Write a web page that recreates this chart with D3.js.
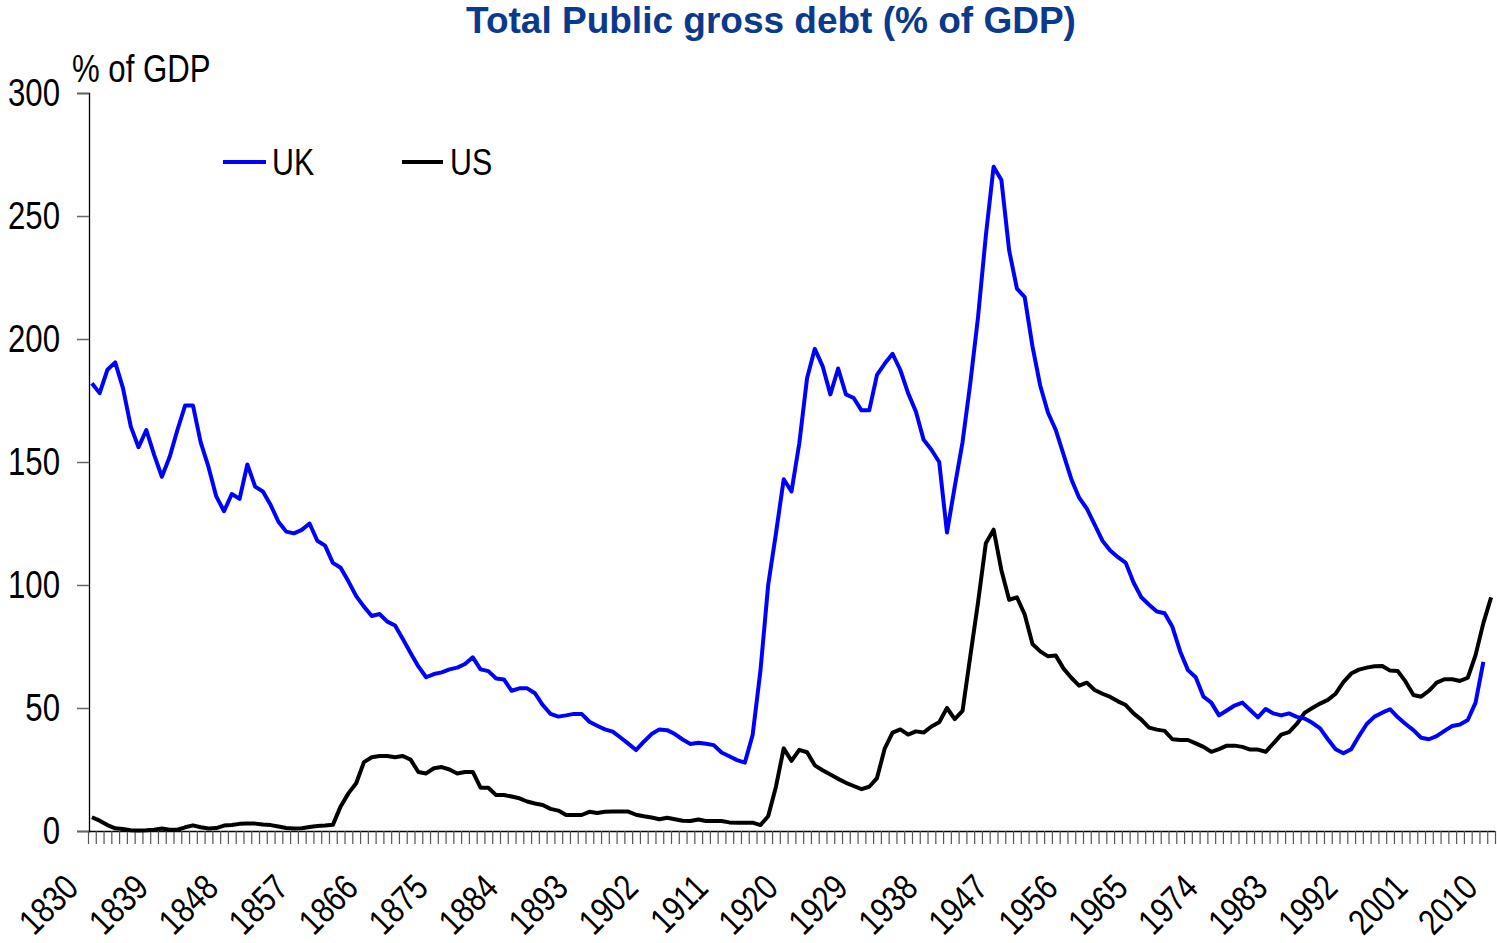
<!DOCTYPE html>
<html>
<head>
<meta charset="utf-8">
<script src="https://cdn.jsdelivr.net/npm/d3@7"></script>
<style>
  html, body { margin: 0; padding: 0; background: #fff; }
  svg { display: block; }
  .narrow { font-family: "Liberation Sans", Arial, sans-serif; }
</style>
</head>
<body>
<svg id="chart" width="1497" height="943"></svg>
<script>
// ---------- DATA ----------
const firstYear = 1830;
const lastYear = 2010;
const years = d3.range(firstYear, lastYear + 1);

const ukDebt = [
  182, 178, 187.5, 190.5, 180, 164.5, 156, 163, 153, 144,
  152, 163, 173, 173, 158, 148, 136, 130, 137, 135,
  149, 140, 138, 132.5, 125.7, 121.7, 121, 122.4, 125, 118,
  116, 109, 107, 101.5, 95.5, 91.2, 87.4, 88.2, 85.1, 83.5,
  78, 72.4, 66.9, 62.5, 63.8, 64.5, 65.7, 66.4, 67.9, 70.6,
  65.7, 65, 62, 61.6, 57, 58, 58, 56, 51.2, 47.6,
  46.5, 47, 47.6, 47.6, 44.4, 42.8, 41.3, 40.4, 38, 35.5,
  32.9, 36.3, 39.4, 41.3, 41, 39.4, 37.2, 35.4, 35.9, 35.5,
  34.9, 31.9, 30.4, 28.8, 27.8, 39, 65, 100, 121, 143,
  138, 157.5, 184, 196, 189, 177.5, 188, 177.5, 176, 171,
  171, 185.4, 190, 194, 187.4, 178, 170.5, 159, 155, 150,
  121.3, 140, 158, 182, 209, 242, 270, 264.6, 236, 220.5,
  217, 197, 181, 170, 163, 153, 143, 135.5, 131, 124.5,
  118, 114, 111.3, 109, 101, 95, 92, 89.2, 88.5, 83,
  73, 65.4, 62.5, 54.6, 52.2, 47, 49, 51, 52.2, 49.2,
  46.2, 49.6, 47.8, 47, 47.8, 46.4, 45.7, 44, 41.7, 37.3,
  33.2, 31.6, 33.2, 38.6, 43.5, 46.5, 48.1, 49.5, 46.2, 43.5,
  41, 37.9, 37.3, 38.6, 40.7, 42.7, 43.3, 45.1, 52.2, 68.8,
  null
];

const usDebt = [
  5.6, 4.2, 2.4, 1.1, 0.8, 0.3, 0.2, 0.3, 0.5, 1.0,
  0.5, 0.5, 1.5, 2.3, 1.5, 1.0, 1.2, 2.2, 2.4, 2.9,
  3.0, 3.0, 2.6, 2.4, 1.8, 1.2, 1.0, 1.1, 1.6, 2.0,
  2.2, 2.5, 10, 15.3, 19.4, 28, 30, 30.5, 30.5, 30,
  30.5, 29, 24, 23.4, 25.5, 26, 25, 23.4, 24, 24,
  17.6, 17.6, 14.6, 14.6, 14, 13.3, 12, 11.2, 10.6, 9,
  8.3, 6.5, 6.5, 6.5, 7.8, 7.3, 7.8, 7.9, 7.9, 7.9,
  6.6, 6, 5.5, 4.8, 5.4, 4.8, 4.2, 4.1, 4.7, 4.1,
  4.1, 4.1, 3.5, 3.4, 3.4, 3.4, 2.4, 6, 18, 33.6,
  28.5, 33, 32, 26.7, 24.7, 23, 21.2, 19.6, 18.3, 17,
  18, 21.5, 33.6, 40, 41.3, 39.2, 40.5, 40, 42.5, 44.2,
  50, 45.5, 48.8, 71, 93, 117, 122.5, 106, 94, 95,
  88, 76, 73, 71, 71.3, 66, 62.3, 59.1, 60.3, 57.3,
  55.8, 54.5, 52.7, 51.2, 47.8, 45.3, 42, 41.2, 40.7, 37.3,
  37, 37, 35.6, 34.2, 32.2, 33.3, 34.7, 34.7, 34.2, 33.1,
  33.1, 32.2, 35.6, 39.2, 40.2, 43.5, 48, 50, 51.8, 53.3,
  55.8, 60.5, 64, 65.6, 66.4, 67, 67.1, 65.2, 65, 60.7,
  55.3, 54.6, 57, 60.3, 61.7, 61.7, 61, 62.3, 71.5, 84.5,
  95
];

const yTicks = [0, 50, 100, 150, 200, 250, 300];
const xLabelYears = d3.range(1830, 2011, 9);
const seriesNames = ["UK", "US"];
const seriesColors = ["#0000FF", "#000000"];

// ---------- LAYOUT ----------
const svg = d3.select("#chart");
const plotLeft = 89, plotRight = 1495, plotTop = 93, plotBottom = 831;

const x = d3.scaleLinear().domain([firstYear - 0.5, lastYear + 0.5]).range([88, plotRight]);
const y = d3.scaleLinear().domain([0, 300]).range([plotBottom, plotTop]);

const narrowCls = "narrow";

// compress Arial-metric text to Arial Narrow proportions
function narrowText(sel) {
  sel.each(function () {
    const len = this.getComputedTextLength();
    if (len > 0) {
      d3.select(this).attr("textLength", (len * 0.82).toFixed(2)).attr("lengthAdjust", "spacingAndGlyphs");
    }
  });
}

// Title
svg.append("text")
  .attr("x", 771).attr("y", 33)
  .attr("text-anchor", "middle")
  .attr("font-family", "'Liberation Sans', Arial, sans-serif")
  .attr("font-weight", "bold")
  .attr("font-size", 37)
  .attr("fill", "#0B3A8C")
  .text("Total Public gross debt (% of GDP)");

// Y unit label
svg.append("text")
  .attr("class", narrowCls)
  .attr("x", 72).attr("y", 82)
  .attr("font-size", 38)
  .attr("fill", "#000")
  .text("% of GDP")
  .call(narrowText);

// Y axis
const yAxis = svg.append("g")
  .attr("transform", `translate(${plotLeft},0)`)
  .call(d3.axisLeft(y).tickValues(yTicks).tickSize(12).tickPadding(17).tickFormat(d3.format("d")));
yAxis.select(".domain").attr("stroke", "#000").attr("stroke-width", 1.3);
yAxis.selectAll(".tick line").attr("stroke", "#666").attr("stroke-width", 1.5);
yAxis.selectAll(".tick text")
  .attr("class", narrowCls)
  .attr("font-size", 38)
  .attr("fill", "#000")
  .call(narrowText);

// X axis tick marks (between categories)
const xTickAxis = svg.append("g")
  .attr("transform", `translate(0,${plotBottom})`)
  .call(d3.axisBottom(x)
    .tickValues(d3.range(firstYear - 0.5, lastYear + 1, 1))
    .tickSize(13)
    .tickFormat(""));
xTickAxis.select(".domain").attr("stroke", "#000").attr("stroke-width", 1.3)
  .attr("d", `M${plotLeft},0.5H${plotRight}`);
xTickAxis.selectAll(".tick line").attr("stroke", "#555").attr("stroke-width", 1.2);

// X axis labels
const xLabelAxis = svg.append("g")
  .attr("transform", `translate(0,${plotBottom})`)
  .call(d3.axisBottom(x).tickValues(xLabelYears).tickSize(0).tickFormat(d3.format("d")));
xLabelAxis.select(".domain").remove();
xLabelAxis.selectAll(".tick text")
  .attr("class", narrowCls)
  .attr("font-size", 36)
  .attr("fill", "#000")
  .attr("text-anchor", "end")
  .attr("y", 0).attr("dy", 0)
  .attr("transform", "translate(-12,59) rotate(-45)")
  .call(narrowText);

// Lines
const line = d3.line()
  .defined(d => d.v !== null)
  .x(d => x(d.year))
  .y(d => y(d.v));

const ukData = years.map((yr, i) => ({ year: yr, v: ukDebt[i] }));
const usData = years.map((yr, i) => ({ year: yr, v: usDebt[i] }));

svg.append("path").datum(usData)
  .attr("fill", "none").attr("stroke", seriesColors[1]).attr("stroke-width", 4)
  .attr("stroke-linejoin", "round")
  .attr("d", line);
svg.append("path").datum(ukData)
  .attr("fill", "none").attr("stroke", seriesColors[0]).attr("stroke-width", 4)
  .attr("stroke-linejoin", "round")
  .attr("d", line);

// Legend
const legendItems = [
  { name: seriesNames[0], color: seriesColors[0], x1: 223, x2: 266, tx: 272 },
  { name: seriesNames[1], color: seriesColors[1], x1: 402, x2: 443, tx: 450 }
];
const lg = svg.append("g");
legendItems.forEach(d => {
  lg.append("line").attr("x1", d.x1).attr("x2", d.x2).attr("y1", 162).attr("y2", 162)
    .attr("stroke", d.color).attr("stroke-width", 4);
  lg.append("text").attr("class", narrowCls)
    .attr("x", d.tx).attr("y", 162).attr("dy", "0.35em")
    .attr("font-size", 37).attr("fill", "#000")
    .text(d.name)
    .call(narrowText);
});
</script>
</body>
</html>
